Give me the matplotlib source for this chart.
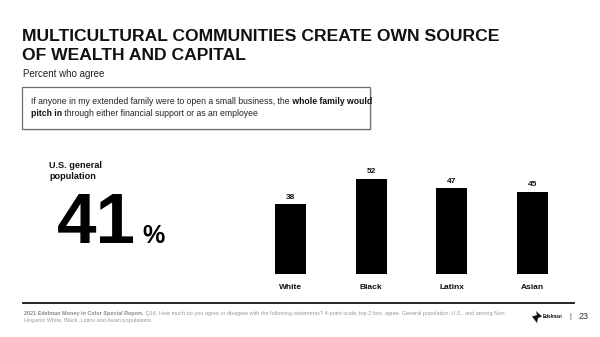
import matplotlib
matplotlib.use('Agg')
import matplotlib.pyplot as plt
from matplotlib.patches import Rectangle, Polygon

plt.rcParams['font.family'] = ['Liberation Sans', 'DejaVu Sans']

# survey results, percent who agree
groups = ['White', 'Black', 'Latinx', 'Asian']
agree = [38, 52, 47, 45]
general_pop = 41

W, H = 600, 337
fig = plt.figure(figsize=(W / 100, H / 100), dpi=100)
fig.patch.set_facecolor('white')

# pixel helper for the overlay axes
bg = fig.add_axes([0, 0, 1, 1])
bg.set_xlim(0, W)
bg.set_ylim(H, 0)
bg.axis('off')

title_lines = ['MULTICULTURAL COMMUNITIES CREATE OWN SOURCE', 'OF WEALTH AND CAPITAL']
for yb, line in zip([41, 60], title_lines):
    bg.text(22, yb, line, fontsize=12.6, fontweight='bold', va='baseline', ha='left', color='#111111')
bg.text(23, 74, 'Percent who agree', fontsize=7, va='center', ha='left', color='#222222')

# statement box with a faint shadow
bg.add_patch(Rectangle((24, 89), 348, 42, facecolor='#e6e6e6', edgecolor='none', zorder=1))
bg.add_patch(Rectangle((22, 87), 348, 42, facecolor='white', edgecolor='#6f6f6f', lw=0.9, zorder=2))

fs = 6.25
t1 = bg.text(31, 101, 'If anyone in my extended family were to open a small business, the',
             fontsize=fs, va='center', ha='left', color='#222222', zorder=3)
bg.annotate(' whole family would', xy=(1, 0.5), xycoords=t1, va='center', ha='left',
            fontsize=fs, fontweight='bold', color='#111111', zorder=3)
t2 = bg.text(31, 113.5, 'pitch in', fontsize=fs, fontweight='bold', va='center', ha='left',
             color='#111111', zorder=3)
bg.annotate(' through either financial support or as an employee', xy=(1, 0.5), xycoords=t2,
            va='center', ha='left', fontsize=fs, color='#222222', zorder=3)

# general population callout
bg.text(49, 171, 'U.S. general\npopulation', fontsize=6.6, fontweight='bold', va='center',
        ha='left', linespacing=1.25, color='#111111')
bg.text(57, 243, f'{general_pop}', fontsize=51, fontweight='bold', va='baseline', ha='left',
        color='black')
bg.text(142, 243, '%', fontsize=18, fontweight='bold', va='baseline', ha='left', color='black')

# footer
bg.plot([23, 574], [303, 303], color='#111111', lw=1.3)
f1 = bg.text(24, 314, '2021 Edelman Money in Color Special Report.', fontsize=4.0, fontweight='bold',
             va='center', ha='left', color='#8a8a8a')
bg.annotate(' Q16. How much do you agree or disagree with the following statements? 4-point scale; '
            'top 2 box, agree. General population, U.S., and among Non-',
            xy=(1, 0.5), xycoords=f1, fontsize=4.0, va='center', ha='left', color='#9a9a9a')
bg.text(24, 320.5, 'Hispanic White, Black, Latinx and Asian populations.', fontsize=4.0,
        va='center', ha='left', color='#9a9a9a')
bg.add_patch(Polygon([(532, 316.5), (537, 315), (536, 311), (542, 316.5), (538, 318), (537, 323)],
                     closed=True, facecolor='#111111', edgecolor='none'))
bg.text(543, 316.5, 'Edelman', fontsize=3.3, fontweight='bold', va='center', ha='left', color='#111111')
bg.text(570, 316.5, '|', fontsize=5.5, va='center', ha='center', color='#444444')
bg.text(584, 316.5, '23', fontsize=6.4, va='center', ha='center', color='#333333')

# bar chart
ax = fig.add_axes([250 / W, (H - 274) / H, 323 / W, 110 / H])
x = range(len(groups))
ax.bar(x, agree, width=0.385, color='black')
for i, v in zip(x, agree):
    ax.text(i, v + 1.8, f'{v}', ha='center', va='bottom', fontsize=6, fontweight='bold',
            color='#111111')
ax.set_xlim(-0.5, 3.5)
ax.set_ylim(0, 60)
ax.set_xticks(list(x))
ax.set_xticklabels(groups, fontsize=6, fontweight='bold', color='#111111')
ax.tick_params(axis='x', length=0, pad=7)
ax.set_yticks([])
for s in ax.spines.values():
    s.set_visible(False)
ax.patch.set_alpha(0)

fig.savefig('out.png', dpi=100, facecolor='white')
